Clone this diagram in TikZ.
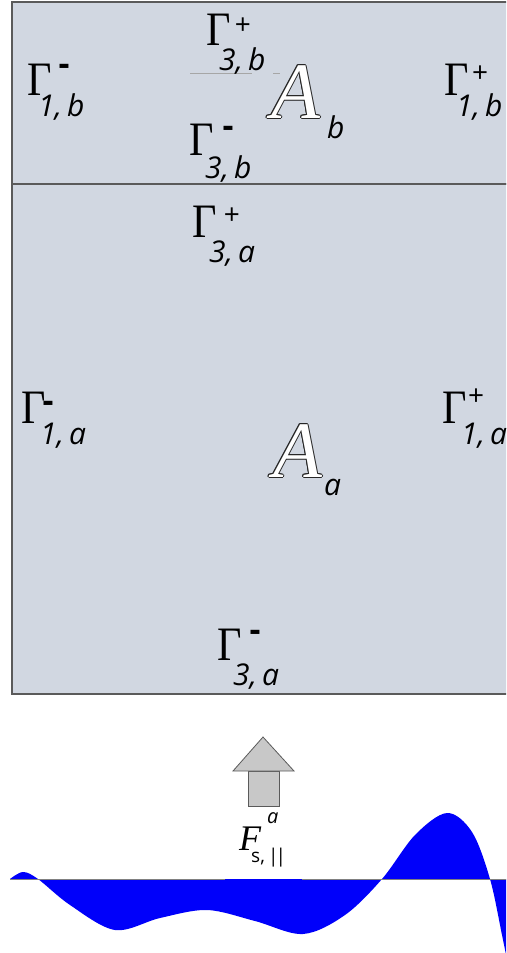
\documentclass[tikz,border=0pt]{standalone}
\usepackage{fontspec}
\setmainfont{Liberation Serif}
\newfontfamily\scriptf{Open Sans}
\definecolor{panel}{RGB}{209,215,225}
\definecolor{frame}{RGB}{90,90,90}
\definecolor{arrowgray}{RGB}{200,200,200}
\definecolor{waveblue}{RGB}{0,0,250}
\newcommand\outlinedglyph[1]{%
 \makebox[0pt][l]{\kern1pt\textcolor{black!85}{#1}}%
 \makebox[0pt][l]{\kern-1pt\textcolor{black!85}{#1}}%
 \makebox[0pt][l]{\raisebox{1pt}{\textcolor{black!85}{#1}}}%
 \makebox[0pt][l]{\raisebox{-1pt}{\textcolor{black!85}{#1}}}%
 \makebox[0pt][l]{\kern0.7pt\raisebox{0.7pt}{\textcolor{black!85}{#1}}}%
 \makebox[0pt][l]{\kern-0.7pt\raisebox{0.7pt}{\textcolor{black!85}{#1}}}%
 \makebox[0pt][l]{\kern0.7pt\raisebox{-0.7pt}{\textcolor{black!85}{#1}}}%
 \makebox[0pt][l]{\kern-0.7pt\raisebox{-0.7pt}{\textcolor{black!85}{#1}}}%
 \textcolor{white}{#1}}
\newcommand\Gam{\scalebox{0.88}[1]{Γ}}
\tikzset{
  gam/.style={font=\fontsize{48}{50}\selectfont, inner sep=0pt, anchor=base west},
  subtxt/.style={font=\scriptf\itshape\fontsize{30}{32}\selectfont, inner sep=0pt, anchor=base west},
  sgn/.style={font=\scriptf\fontsize{28}{30}\selectfont, inner sep=0pt, anchor=center},
  msgn/.style={font=\scriptf\bfseries\fontsize{34}{36}\selectfont, inner sep=0pt, anchor=center},
  bigA/.style={font=\itshape\fontsize{80}{82}\selectfont, inner sep=0pt, anchor=base west},
  region/.style={fill=panel, draw=frame, line width=1.5pt},
  arrowpart/.style={fill=arrowgray, draw=frame, line width=0.8pt},
  axisline/.style={draw=gray, line width=1pt},
}
\begin{document}
\begin{tikzpicture}[x=1pt,y=-1pt]
\useasboundingbox (0,0) rectangle (506,953);
\clip (0,0) rectangle (506,953);
\fill[white] (0,0) rectangle (506,953);
% regions
\draw[region] (12,2) rectangle (512,184);
\draw[region] (12,184) rectangle (512,694);
\draw[gray!70, line width=0.6pt] (190,73) -- (252,73);
\draw[gray!70, line width=0.6pt] (273,73) -- (280,73);
% upper region labels
\node[gam] (g1b) at (27,95) {\Gam};
\node[msgn] (g1bs) at (64,70) {-};
\node[subtxt] (g1bi) at (38,116) {1,\,b};
\node[gam] (g3b) at (206,45) {\Gam};
\node[sgn] (g3bs) at (243,26) {+};
\node[subtxt] (g3bi) at (219,70) {3,\,b};
\node[bigA] (Ab) at (271,118) {\outlinedglyph{A}};
\node[subtxt] (Abi) at (327,138) {b};
\node[gam] (g3bm) at (189,155) {\Gam};
\node[msgn] (g3bms) at (228,132) {-};
\node[subtxt] (g3bmi) at (205,178) {3,\,b};
\node[gam] (g1bp) at (444,95) {\Gam};
\node[sgn] (g1bps) at (480,74) {+};
\node[subtxt] (g1bpi) at (456,116) {1,\,b};
% lower region labels
\node[gam] (g3a) at (192,237) {\Gam};
\node[sgn] (g3as) at (232,216) {+};
\node[subtxt] (g3ai) at (209,262) {3,\,a};
\node[gam] (g1a) at (21,423) {\Gam};
\node[msgn] (g1as) at (48,407) {-};
\node[subtxt] (g1ai) at (40,444) {1,\,a};
\node[gam] (g1ap) at (442,423) {\Gam};
\node[sgn] (g1aps) at (476,397) {+};
\node[subtxt] (g1api) at (461,444) {1,\,a};
\node[bigA] (Aa) at (273,477) {\outlinedglyph{A}};
\node[subtxt] (Aai) at (324,495) {a};
\node[gam] (g3am) at (217,660) {\Gam};
\node[msgn] (g3ams) at (255,636) {-};
\node[subtxt] (g3ami) at (233,685) {3,\,a};
% force arrow
\draw[arrowpart] (248,771) rectangle (279,806);
\draw[arrowpart] (263,737) -- (294,771) -- (233,771) -- cycle;
\node[font=\itshape\fontsize{36}{38}\selectfont, inner sep=0pt, anchor=base west] (F) at (239,850) {F};
\node[font=\scriptf\itshape\fontsize{20}{22}\selectfont, inner sep=0pt, anchor=base west] (Fa) at (267,823) {a};
\node[font=\scriptf\fontsize{19}{21}\selectfont, inner sep=0pt, anchor=base west] (Fs) at (251,862) {s,\,|\kern-3pt|};
% wave
\fill[waveblue] plot[smooth, tension=0.55] coordinates {(10,879) (23,872) (38,879) (70,905) (115,930) (160,918) (207,910) (255,921) (303,934) (345,915) (382,879) (415,835) (447,813) (472,832) (490,879) (502,935) (510,975)} -- (510,879) -- cycle;
\draw[axisline] (10,879) -- (225,879);
\draw[axisline] (302,879) -- (506,879);
\end{tikzpicture}
\end{document}
